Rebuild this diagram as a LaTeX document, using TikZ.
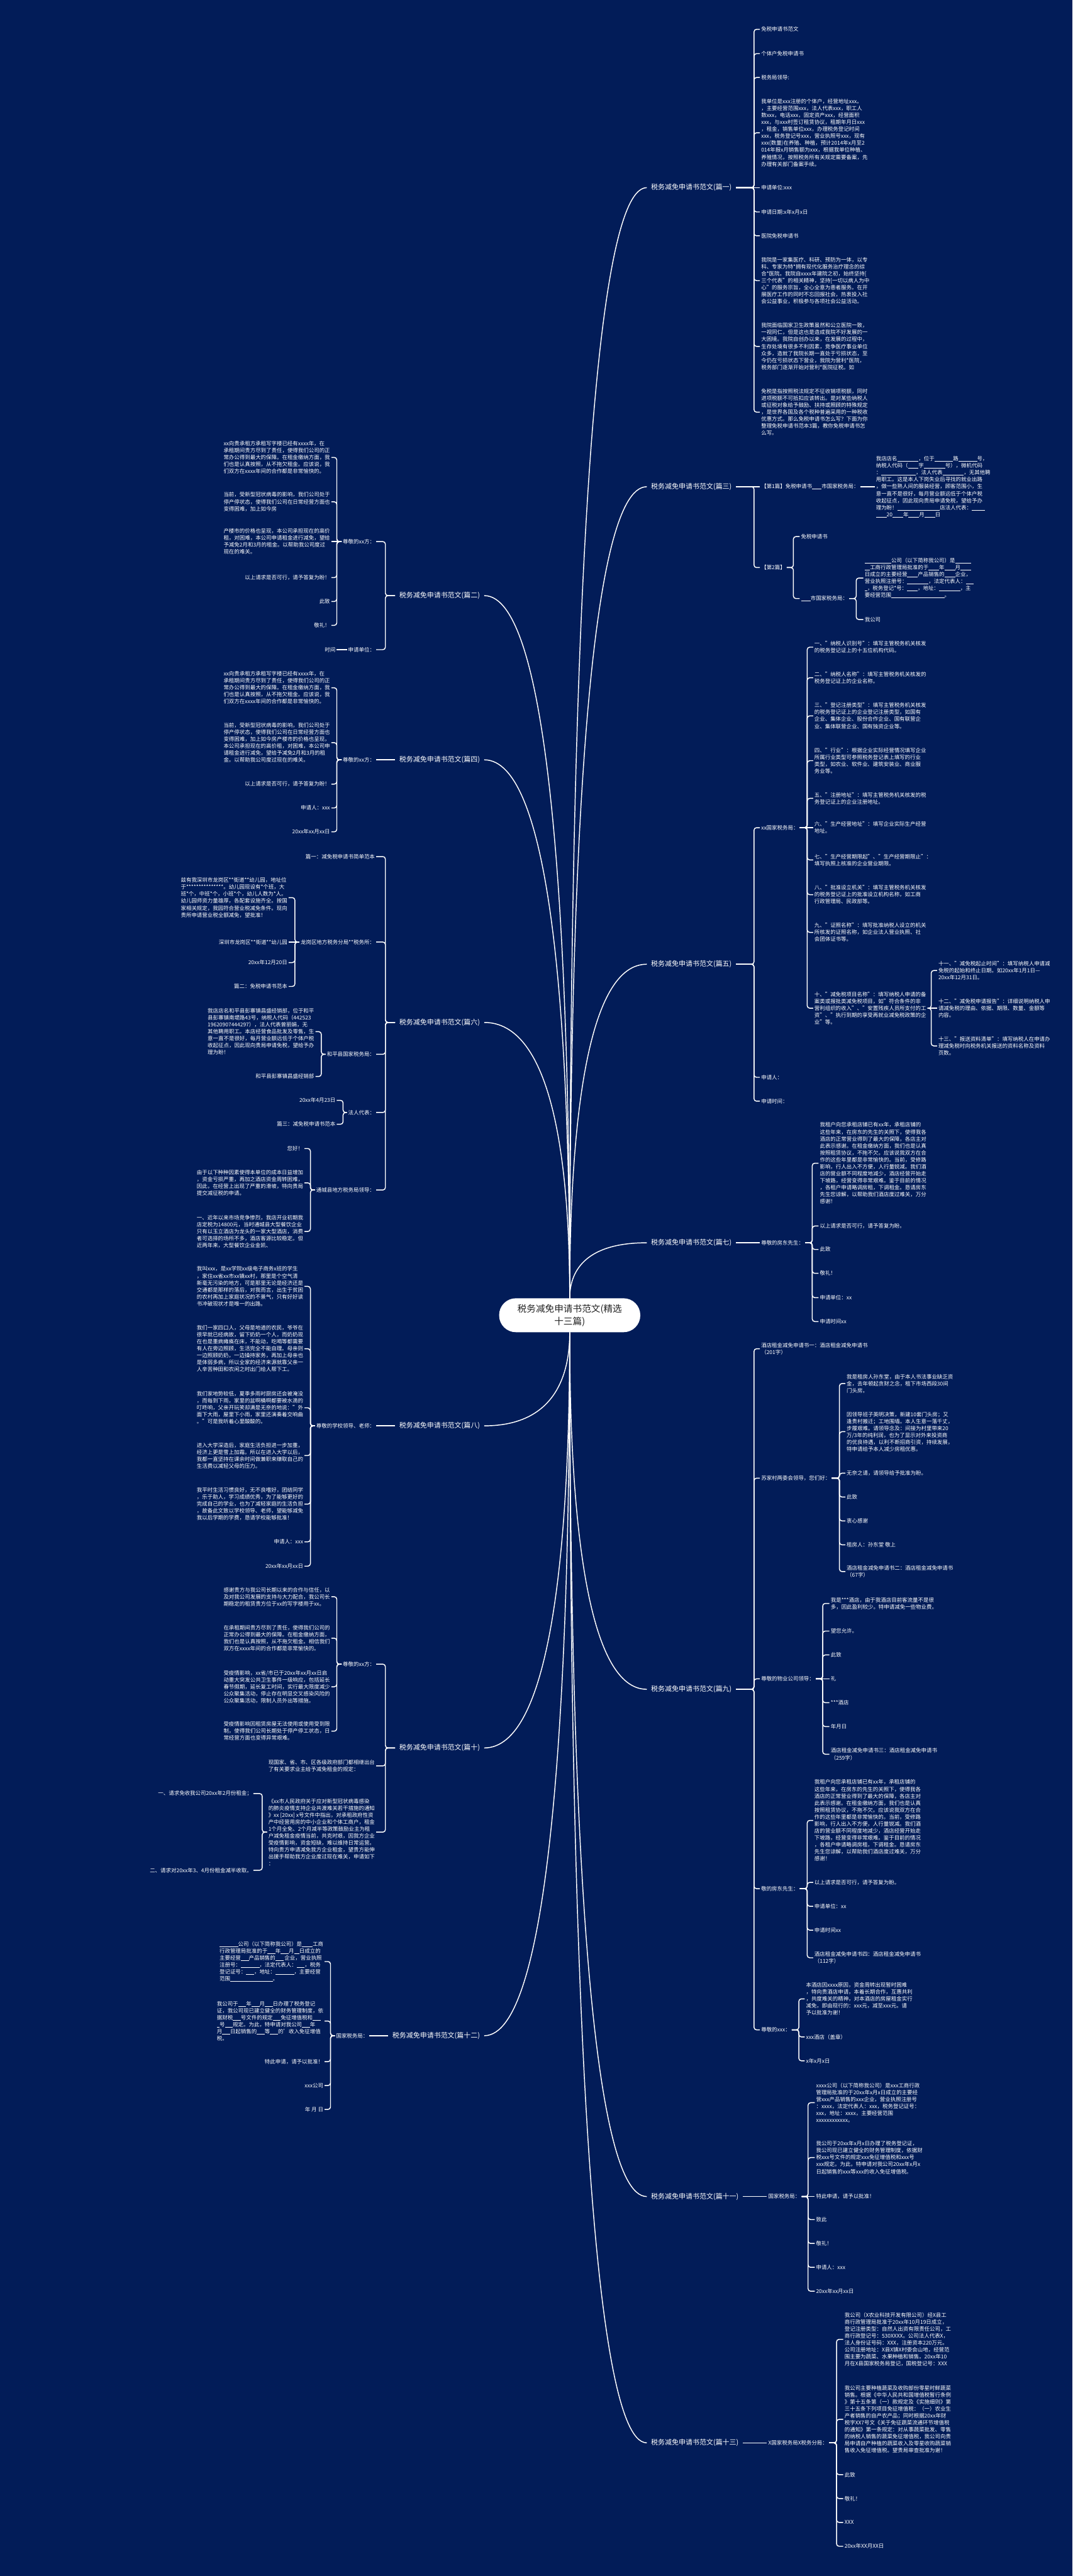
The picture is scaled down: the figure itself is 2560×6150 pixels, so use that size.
\documentclass[tikz,border=0pt]{standalone}
\usepackage{fontspec}
\setmainfont{Noto Sans CJK SC}
\usetikzlibrary{calc}
\definecolor{bgc}{HTML}{021C58}
\definecolor{ctext}{HTML}{222222}
\newcommand\BL[1]{\rule[-0.12em]{#1em}{0.07em}}
\newcommand\ZuhuText{我租户向您承租店铺已有xx年，承租店铺的\\这些年来，在房东的先生的关照下，使得我各\\酒店的正常营业得到了最大的保障，各店主对\\此表示感谢。在租金缴纳方面，我们也是认真\\按照租赁协议，不拖不欠。应该说我双方在合\\作的这些年里都是非常愉快的。当前，受修路\\影响，行人出入不方便，人行量锐减。我们酒\\店的营业额不同程度地减少，酒店经营开始走\\下坡路，经营变得非常艰难。鉴于目前的情况\\，各租户申请略调房租，下调租金。恳请房东\\先生您谅解，以帮助我们酒店度过难关，万分\\感谢！}
\newcommand\XiangGuiText{xx向贵承租方承租写字楼已经有xxxx年，在\\承租期间贵方尽到了责任，使得我们公司的正\\常办公得到最大的保障。在租金缴纳方面，我\\们也是认真按照，从不拖欠租金。应该说，我\\们双方在xxxx年间的合作都是非常愉快的。}
\newcommand\kR[3]{\foreach \kk in {#3}{\draw[conn] (#1.east) -- (#1.east -| #2) |- (\kk.west);}}
\newcommand\kL[3]{\foreach \kk in {#3}{\draw[conn] (#1.west) -- (#1.west -| #2) |- (\kk.east);}}
\newcommand\sR[2]{\draw[conn] (#1.east) -- (#2.west);}
\newcommand\sL[2]{\draw[conn] (#1.west) -- (#2.east);}
\newcommand\mR[2]{\draw[conn] let \p1=(#1), \p2=(#2.west) in (\p1) .. controls (\x1,{0.45*(\y1)+0.55*(\y2)}) and ({0.75*(\x1)+0.25*(\x2)},\y2) .. (\p2);}
\newcommand\mL[2]{\draw[conn] let \p1=(#1), \p2=(#2.east) in (\p1) .. controls (\x1,{0.45*(\y1)+0.55*(\y2)}) and ({0.75*(\x1)+0.25*(\x2)},\y2) .. (\p2);}
\begin{document}
\begin{tikzpicture}[x=1pt,y=-1pt,
 conn/.style={draw=white,line width=2.2pt,rounded corners=6pt},
 lf/.style={text=white,font=\fontsize{12.7}{16.6}\selectfont,align=left,inner xsep=3pt,inner ysep=2pt},
 rn/.style={lf,anchor=west},
 ln/.style={lf,anchor=east},
 ml/.style={text=white,font=\fontsize{16.5}{20}\selectfont,inner xsep=10pt,inner ysep=3pt},
 mrn/.style={ml,anchor=west},
 mln/.style={ml,anchor=east}]
\fill[bgc] (0,0) rectangle (2560,6150);
\useasboundingbox (0,0) rectangle (2560,6150);

\node[fill=white,rounded corners=40pt,minimum width=337pt,minimum height=81pt,text=ctext,font=\fontsize{22}{30}\selectfont,align=center,inner sep=0pt] (C) at (1360,3140) {税务减免申请书范文(精选\\十三篇)};
\coordinate (cN) at (1360,3100);
\coordinate (cS) at (1360,3181);
\coordinate (tR) at (1800,0);
\coordinate (tL) at (920,0);
\coordinate (tL12) at (905,0);

% ---------------- 篇一
\node[mrn] (P1) at (1544,448) {税务减免申请书范文(篇一)};
\node[rn] (a1) at (1814,70) {免税申请书范文};
\node[rn] (a2) at (1814,128) {个体户免税申请书};
\node[rn] (a3) at (1814,185) {税务局领导:};
\node[rn] (a4) at (1814,317) {我单位是xxx注册的个体户，经营地址xxx。\\，主要经营范围xxx，法人代表xxx，职工人\\数xxx，电话xxx，固定资产xxx，经营面积\\xxx，与xxx村签订租赁协议，租期年月日xxx\\，租金，销售单位xxx，办理税务登记时间\\xxx，税务登记号xxx，营业执照号xxx，现有\\xxx(数量)在养殖、种植，预计2014年x月至2\\014年报x月销售额为xxx，根据我单位种植、\\养殖情况，按照税务所有关规定需要备案，先\\办理有关部门备案手续。};
\node[rn] (a5) at (1814,448) {申请单位:xxx};
\node[rn] (a6) at (1814,506) {申请日期:x年x月x日};
\node[rn] (a7) at (1814,563) {医院免税申请书};
\node[rn] (a8) at (1814,670) {我院是一家集医疗、科研、预防为一体，以专\\科、专家为特*拥有现代化服务治疗理念的综\\合*医院。我院自xxxx年建院之初，始终坚持[\\三个代表"的相关精神，坚持[一切以病人为中\\心"的服务宗旨，全心全意为患者服务。在开\\展医疗工作的同时不忘回报社会，热衷投入社\\会公益事业，积极参与各项社会公益活动。};
\node[rn] (a9) at (1814,827) {我院面临国家卫生政策虽然和公立医院一致，\\一视同仁，但是这也是造成我院不好发展的一\\大困境。我院自创办以来，在发展的过程中，\\生存处境有很多不利因素，竞争医疗事业单位\\众多，造就了我院长期一直处于亏损状态，至\\今仍在亏损状态下营业，我院为营利*医院，\\税务部门逐渐开始对营利*医院征税。如};
\node[rn] (a10) at (1814,984) {免税是指按照税法规定不征收销项税额，同时\\进项税额不可抵扣应该转出。是对某些纳税人\\或征税对象给予鼓励、扶持或照顾的特殊规定\\，是世界各国及各个税种普遍采用的一种税收\\优惠方式。那么免税申请书怎么写？下面为你\\整理免税申请书范本3篇，教你免税申请书怎\\么写。};
\kR{P1}{tR}{a1,a2,a3,a4,a6,a7,a8,a9,a10}
\sR{P1}{a5}

% ---------------- 篇三
\node[mrn] (P3) at (1544,1162) {税务减免申请书范文(篇三)};
\node[rn] (b1) at (1814,1162) {【第1篇】免税申请书\BL{1.8}市国家税务局：};
\node[rn] (b1p) at (2088,1162) {我店店名\BL{4}，位于\BL{3.5}路\BL{3.5}号，\\纳税人代码（\BL{2}字\BL{4}号），微机代码\\：\BL{6.5}，法人代表\BL{4}，无其他聘\\用职工。这是本人下岗失业后寻找的就业出路\\，做一些熟人间的服装经营，顾客范围小，生\\意一直不是很好，每月营业额远低于个体户税\\收起征点，因此现向贵局申请免税，望给予办\\理为盼！\BL{8}店法人代表：\BL{2.5}\\\BL{2}20\BL{2}年\BL{2}月\BL{2}日};
\node[rn] (b2) at (1814,1355) {【第2篇】};
\node[rn] (b21) at (1909,1281) {免税申请书};
\node[rn] (b22) at (1909,1429) {\BL{1.8}市国家税务局：};
\node[rn] (b221) at (2061,1380) {\BL{5}公司（以下简称我公司）是\BL{3}\\\BL{1}工商行政管理局批准的于\BL{2}年\BL{2}月\BL{2}\\日成立的主要经营\BL{2}产品销售的\BL{2}企业，\\营业执照注册号：\BL{4}，法定代表人：\BL{1.5}\\\BL{0.5}，税务登记*号：\BL{2}，地址：\BL{4}，主\\要经营范围\BL{10}。};
\node[rn] (b222) at (2061,1479) {我公司};
\coordinate (tb2) at (1894,0);
\coordinate (tb22) at (2044,0);
\sR{P3}{b1}
\kR{P3}{tR}{b2}
\sR{b1}{b1p}
\kR{b2}{tb2}{b21,b22}
\kR{b22}{tb22}{b221,b222}

% ---------------- 篇五
\node[mrn] (P5) at (1544,2302) {税务减免申请书范文(篇五)};
\node[rn] (c1) at (1814,1976) {xx国家税务局：};
\node[rn] (c2) at (1814,2572) {申请人：};
\node[rn] (c3) at (1814,2629) {申请时间：};
\node[rn] (c11) at (1941,1545) {一、"纳税人识别号"：填写主管税务机关核发\\的税务登记证上的十五位机构代码。};
\node[rn] (c12) at (1941,1618) {二、"纳税人名称"：填写主管税务机关核发的\\税务登记证上的企业名称。};
\node[rn] (c13) at (1941,1709) {三、"登记注册类型"：填写主管税务机关核发\\的税务登记证上的企业登记注册类型，如国有\\企业、集体企业、股份合作企业、国有联营企\\业、集体联营企业、国有独资企业等。};
\node[rn] (c14) at (1941,1816) {四、"行业"：根据企业实际经营情况填写企业\\所属行业类型可参照税务登记表上填写的行业\\类型，如农业、软件业、建筑安装业、商业服\\务业等。};
\node[rn] (c15) at (1941,1906) {五、"注册地址"：填写主管税务机关核发的税\\务登记证上的企业注册地址。};
\node[rn] (c16) at (1941,1976) {六、"生产经营地址"：填写企业实际生产经营\\地址。};
\node[rn] (c17) at (1941,2053) {七、"生产经营期限起"、"生产经营期限止"：\\填写执照上核准的企业营业期限。};
\node[rn] (c18) at (1941,2136) {八、"批准设立机关"：填写主管税务机关核发\\的税务登记证上的批准设立机构名称，如工商\\行政管理局、民政部等。};
\node[rn] (c19) at (1941,2226) {九、"证照名称"：填写批准纳税人设立的机关\\所核发的证照名称，如企业法人营业执照、社\\会团体证书等。};
\node[rn] (c110) at (1941,2407) {十、"减免税项目名称"：填写纳税人申请的备\\案类或报批类减免税项目，如"符合条件的非\\营利组织的收入"、"安置残疾人员所支付的工\\资"、"执行到期的享受再就业减免税政策的企\\业"等。};
\node[rn] (c1a) at (2237,2317) {十一、"减免税起止时间"：填写纳税人申请减\\免税的起始和终止日期。如20xx年1月1日—\\20xx年12月31日。};
\node[rn] (c1b) at (2237,2407) {十二、"减免税申请报告"：详细说明纳税人申\\请减免税的理由、依据、期限、数量、金额等\\内容。};
\node[rn] (c1c) at (2237,2497) {十三、"报送资料清单"：填写纳税人在申请办\\理减免税时向税务机关报送的资料名称及资料\\页数。};
\coordinate (tc1) at (1927,0);
\coordinate (tc10) at (2223,0);
\kR{P5}{tR}{c1,c2,c3}
\kR{c1}{tc1}{c11,c12,c13,c14,c15,c17,c18,c19,c110}
\sR{c1}{c16}
\kR{c110}{tc10}{c1a,c1c}
\sR{c110}{c1b}

% ---------------- 篇七
\node[mrn] (P7) at (1544,2967) {税务减免申请书范文(篇七)};
\node[rn] (d1) at (1814,2967) {尊敬的房东先生：};
\node[rn] (d11) at (1954,2777) {\ZuhuText};
\node[rn] (d12) at (1954,2927) {以上请求是否可行，请予答复为盼。};
\node[rn] (d13) at (1954,2983) {此致};
\node[rn] (d14) at (1954,3040) {敬礼！};
\node[rn] (d15) at (1954,3098) {申请单位：xx};
\node[rn] (d16) at (1954,3155) {申请时间xx};
\coordinate (td1) at (1939,0);
\sR{P7}{d1}
\kR{d1}{td1}{d11,d12,d13,d14,d15,d16}

% ---------------- 篇九
\node[mrn] (P9) at (1544,4033) {税务减免申请书范文(篇九)};
\node[rn] (e1) at (1814,3220) {酒店租金减免申请书一：酒店租金减免申请书\\（201字）};
\node[rn] (e2) at (1814,3529) {苏家村两委会领导，您们好：};
\node[rn] (e21) at (2018,3303) {我是租房人孙东堂，由于本人书法事业缺乏资\\金，去年顿起贪财之念，租下市场西段30间\\门头房。};
\node[rn] (e22) at (2018,3418) {因领导班子英明决策，新建10套门头房；又\\逢贵村搬迁；工地围墙。本人生意一落千丈，\\步履艰难。请领导念及：间接为村里带来20\\万/3年的纯利润，也为了显示对外来投资商\\的优良待遇，以利不断招商引资，持续发展，\\特申请给予本人减少房租优惠。};
\node[rn] (e23) at (2018,3517) {无奈之请，请领导给予批准为盼。};
\node[rn] (e24) at (2018,3574) {此致};
\node[rn] (e25) at (2018,3631) {衷心感谢};
\node[rn] (e26) at (2018,3688) {租房人：孙东堂 敬上};
\node[rn] (e27) at (2018,3752) {酒店租金减免申请书二：酒店租金减免申请书\\（67字）};
\node[rn] (e3) at (1814,4008) {尊敬的物业公司领导：};
\node[rn] (e31) at (1980,3828) {我是***酒店，由于我酒店目前客流量不是很\\多，因此盈利较少。特申请减免一些物业费。};
\node[rn] (e32) at (1980,3894) {望您允许。};
\node[rn] (e33) at (1980,3951) {此致};
\node[rn] (e34) at (1980,4008) {礼};
\node[rn] (e35) at (1980,4065) {***酒店};
\node[rn] (e36) at (1980,4122) {年月日};
\node[rn] (e37) at (1980,4188) {酒店租金减免申请书三：酒店租金减免申请书\\（259字）};
\node[rn] (e4) at (1814,4509) {敬的房东先生：};
\node[rn] (e41) at (1941,4346) {\ZuhuText};
\node[rn] (e42) at (1941,4494) {以上请求是否可行，请予答复为盼。};
\node[rn] (e43) at (1941,4551) {申请单位：xx};
\node[rn] (e44) at (1941,4608) {申请时间xx};
\node[rn] (e45) at (1941,4674) {酒店租金减免申请书四：酒店租金减免申请书\\（112字）};
\node[rn] (e5) at (1814,4846) {尊敬的xxx：};
\node[rn] (e51) at (1921,4772) {本酒店因xxxx原因，资金周转出现暂时困难\\，特向贵酒店申请，本着长期合作，互惠共利\\，共度难关的精神，对本酒店的房屋租金实行\\减免，即由现行的：xxx元，减至xxx元。请\\予以批准为谢！};
\node[rn] (e52) at (1921,4863) {xxx酒店（盖章）};
\node[rn] (e53) at (1921,4920) {x年x月x日};
\coordinate (te2) at (2004,0);
\coordinate (te3) at (1964,0);
\coordinate (te4) at (1927,0);
\coordinate (te5) at (1907,0);
\kR{P9}{tR}{e1,e2,e3,e4,e5}
\kR{e2}{te2}{e21,e22,e23,e24,e25,e26,e27}
\kR{e3}{te3}{e31,e32,e33,e35,e36,e37}
\sR{e3}{e34}
\kR{e4}{te4}{e41,e42,e43,e44,e45}
\kR{e5}{te5}{e51,e52,e53}

% ---------------- 篇十一
\node[mrn] (P11) at (1544,5244) {税务减免申请书范文(篇十一)};
\node[rn] (f1) at (1831,5244) {国家税务局：};
\node[rn] (f11) at (1945,5020) {xxxx公司（以下简称我公司）是xxx工商行政\\管理局批准的于20xx年x月x日成立的主要经\\营xxx产品销售的xxx企业，营业执照注册号\\：xxxx，法定代表人：xxx，税务登记证号：\\xxx，地址：xxxx，主要经营范围\\xxxxxxxxxxxx。};
\node[rn] (f12) at (1945,5151) {我公司于20xx年x月x日办理了税务登记证，\\我公司现已建立健全的财务管理制度，依据财\\税xxx号文件的规定xxx免征增值税和xxx号\\xxx规定。为此，特申请对我公司20xx年x月x\\日起销售的xxx等xxx的收入免征增值税。};
\node[rn] (f13) at (1945,5244) {特此申请，请予以批准！};
\node[rn] (f14) at (1945,5299) {致此};
\node[rn] (f15) at (1945,5356) {敬礼！};
\node[rn] (f16) at (1945,5413) {申请人：xxx};
\node[rn] (f17) at (1945,5470) {20xx年xx月xx日};
\coordinate (tf1) at (1929,0);
\sR{P11}{f1}
\kR{f1}{tf1}{f11,f12,f14,f15,f16,f17}
\sR{f1}{f13}

% ---------------- 篇十三
\node[mrn] (P13) at (1544,5832) {税务减免申请书范文(篇十三)};
\node[rn] (g1) at (1831,5832) {X国家税务局X税务分局：};
\node[rn] (g11) at (2013,5585) {我公司（X农业科技开发有限公司）经X县工\\商行政管理局批准于20xx年10月19日成立，\\登记注册类型：自然人出资有限责任公司，工\\商行政登记号：530XXXX。公司法人代表X，\\法人身份证号码：XXX，注册资本220万元。\\公司注册地址：X县X镇X村委会山地，经营范\\围主要为蔬菜、水果种植和销售。20xx年10\\月在X县国家税务局登记，国税登记号：XXX};
\node[rn] (g12) at (2013,5776) {我公司主要种植蔬菜及收购部份零星时鲜蔬菜\\销售。根据《中华人民共和国增值税暂行条例\\》第十五条第（一）款规定及《实施细则》第\\三十五条下列项目免征增值税：（一）农业生\\产者销售的自产农产品；同时根据20xx年财\\税字XX7号文《关于免征蔬菜流通环节增值税\\的通知》第一条规定：对从事蔬菜批发、零售\\的纳税人销售的蔬菜免征增值税，我公司向贵\\局申请自产种植的蔬菜收入及零星收购蔬菜销\\售收入免征增值税。望贵局审查批准为谢！};
\node[rn] (g13) at (2013,5908) {此致};
\node[rn] (g14) at (2013,5965) {敬礼！};
\node[rn] (g15) at (2013,6022) {XXX};
\node[rn] (g16) at (2013,6079) {20xx年XX月XX日};
\coordinate (tg1) at (1997,0);
\sR{P13}{g1}
\kR{g1}{tg1}{g11,g12,g13,g14,g15,g16}

% ---------------- 篇二
\node[mln] (P2) at (1156,1422) {税务减免申请书范文(篇二)};
\node[ln] (h1) at (898,1293) {尊敬的xx方：};
\node[ln] (h11) at (791,1092) {\XiangGuiText};
\node[ln] (h12) at (791,1198) {当前，受新型冠状病毒的影响，我们公司处于\\停产停状态，使得我们公司在日常经营方面也\\变得困难，加上如今房};
\node[ln] (h13) at (791,1293) {产楼市的价格也呈现，本公司承担现在的高价\\租，对困难，本公司申请租金进行减免，望给\\予减免2月和3月的租金。以帮助我公司度过\\现在的难关。};
\node[ln] (h14) at (791,1379) {以上请求是否可行，请予答复为盼！};
\node[ln] (h15) at (791,1436) {此致};
\node[ln] (h16) at (791,1493) {敬礼！};
\node[ln] (h2) at (898,1551) {申请单位：};
\node[ln] (h21) at (804,1551) {时间};
\coordinate (th1) at (804,0);
\kL{P2}{tL}{h1,h2}
\kL{h1}{th1}{h11,h12,h14,h15,h16}
\sL{h1}{h13}
\sL{h2}{h21}

% ---------------- 篇四
\node[mln] (P4) at (1156,1814) {税务减免申请书范文(篇四)};
\node[ln] (i1) at (898,1814) {尊敬的xx方：};
\node[ln] (i11) at (791,1642) {\XiangGuiText};
\node[ln] (i12) at (791,1773) {当前，受新型冠状病毒的影响，我们公司处于\\停产停状态，使得我们公司在日常经营方面也\\变得困难，加上如今房产楼市的价格也呈现，\\本公司承担现在的高价租，对困难，本公司申\\请租金进行减免，望给予减免2月和3月的租\\金。以帮助我公司度过现在的难关。};
\node[ln] (i13) at (791,1872) {以上请求是否可行，请予答复为盼！};
\node[ln] (i14) at (791,1929) {申请人：xxx};
\node[ln] (i15) at (791,1986) {20xx年xx月xx日};
\sL{P4}{i1}
\kL{i1}{th1}{i11,i12,i13,i14,i15}

% ---------------- 篇六
\node[mln] (P6) at (1156,2441) {税务减免申请书范文(篇六)};
\node[ln] (j1) at (898,2045) {篇一：减免税申请书简单范本};
\node[ln] (j2) at (898,2249) {龙岗区地方税务分局**税务所：};
\node[ln] (j21) at (689,2143) {兹有我深圳市龙岗区**街道**幼儿园，地址位\\于***************。幼儿园现设有*个班，大\\班*个，中班*个，小班*个，幼儿人数为*人。\\幼儿园师资力量雄厚，各配套设施齐全。按国\\家相关规定，我园符合营业税减免条件。现向\\贵所申请营业税全额减免，望批准！};
\node[ln] (j22) at (689,2249) {深圳市龙岗区**街道**幼儿园};
\node[ln] (j23) at (689,2298) {20xx年12月20日};
\node[ln] (j24) at (689,2355) {篇二：免税申请书范本};
\node[ln] (j3) at (898,2517) {和平县国家税务局：};
\node[ln] (j31) at (753,2463) {我店店名和平县彭寨镇昌盛经销部，位于和平\\县彭寨镇南堤路43号，纳税人代码（442523\\19620907444297），法人代表曾丽娟，无\\其他聘用职工。本店经营食品批发及零售，生\\意一直不是很好，每月营业额远低于个体户税\\收起征点，因此现向贵局申请免税，望给予办\\理为盼！};
\node[ln] (j32) at (753,2570) {和平县彭寨镇昌盛经销部};
\node[ln] (j4) at (898,2656) {法人代表：};
\node[ln] (j41) at (804,2627) {20xx年4月23日};
\node[ln] (j42) at (804,2684) {篇三：减免税申请书范本};
\node[ln] (j5) at (898,2841) {通城县地方税务局领导：};
\node[ln] (j51) at (727,2742) {您好！};
\node[ln] (j52) at (727,2824) {由于以下种种因素使得本单位的成本日益增加\\，资金亏损严重，再加之酒店资金周转困难，\\因此，在经营上出现了严重的滑坡，特向贵局\\提交减征税的申请。};
\node[ln] (j53) at (727,2940) {一、近年以来市场竞争惨烈，我店开业初期我\\店定税为14800元，当时通城县大型餐饮企业\\只有以玉立酒店为龙头的一家大型酒店，消费\\者可选择的场所不多，酒店客源比较稳定。但\\近两年来，大型餐饮企业金凯、};
\coordinate (tj2) at (704,0);
\coordinate (tj3) at (767,0);
\coordinate (tj4) at (819,0);
\coordinate (tj5) at (741,0);
\kL{P6}{tL}{j1,j2,j3,j4,j5}
\kL{j2}{tj2}{j21,j23,j24}
\sL{j2}{j22}
\kL{j3}{tj3}{j31,j32}
\kL{j4}{tj4}{j41,j42}
\kL{j5}{tj5}{j51,j52,j53}

% ---------------- 篇八
\node[mln] (P8) at (1156,3404) {税务减免申请书范文(篇八)};
\node[ln] (k1) at (898,3404) {尊敬的学校领导、老师：};
\node[ln] (k11) at (727,3071) {我叫xxx，是xx学院xx级电子商务x班的学生\\，家住xx省xx市xx镇xx村，那里是个空气清\\新毫无污染的地方，可是那里无论是经济还是\\交通都是那样的落后，对我而言，出生于贫困\\的农村再加上家庭状况的不景气，只有好好读\\书冲破现状才是唯一的出路。};
\node[ln] (k12) at (727,3220) {我们一家四口人，父母是地道的农民，爷爷在\\很早就已经病故，留下奶奶一个人，而奶奶现\\在也是重病瘫痪在床，不能动，吃喝等都需要\\有人在旁边照顾，生活完全不能自理。母亲则\\一边照顾奶奶，一边操持家务，再加上母亲也\\是体弱多病，所以全家的经济来源就靠父亲一\\人辛苦种田和农闲之时出门给人帮下工。};
\node[ln] (k13) at (727,3361) {我们家地势较低，夏季多雨时厨房还会被淹没\\，而每到下雨，家里的盆啊桶啊都要被水滴的\\叮咚响，父亲开玩笑却满是无奈的地说："外\\面下大雨，屋里下小雨，家里还演奏着交响曲\\。"可是我听着心里酸酸的。};
\node[ln] (k14) at (727,3475) {进入大学深造后，家庭生活负担进一步加重，\\经济上更是雪上加霜。所以在进入大学以后，\\我都一直坚持在课余时间做兼职来赚取自己的\\生活费以减轻父母的压力。};
\node[ln] (k15) at (727,3591) {我平时生活习惯良好，无不良嗜好，团结同学\\，乐于助人，学习成绩优秀，为了能够更好的\\完成自己的学业，也为了减轻家庭的生活负担\\，故备此文致以学校领导、老师，望能够减免\\我以后学期的学费，恳请学校能够批准！};
\node[ln] (k16) at (727,3681) {申请人：xxx};
\node[ln] (k17) at (727,3739) {20xx年xx月xx日};
\coordinate (tk1) at (741,0);
\sL{P8}{k1}
\kL{k1}{tk1}{k11,k12,k13,k14,k15,k16,k17}

% ---------------- 篇十
\node[mln] (P10) at (1156,4173) {税务减免申请书范文(篇十)};
\node[ln] (l1) at (898,3973) {尊敬的xx方：};
\node[ln] (l11) at (791,3812) {感谢贵方与我公司长期以来的合作与信任，以\\及对我公司发展的支持与大力配合，我公司长\\期稳定的租赁贵方位于xx的写字楼用于xx。};
\node[ln] (l12) at (791,3911) {在承租期间贵方尽到了责任，使得我们公司的\\正常办公得到最大的保障。在租金缴纳方面，\\我们也是认真按照，从不拖欠租金。相信我们\\双方在xxxx年间的合作都是非常愉快的。};
\node[ln] (l13) at (791,4027) {受疫情影响，xx省/市已于20xx年xx月xx日启\\动重大突发公共卫生事件一级响应，包括延长\\春节假期，延长复工时间，实行最大限度减少\\公众聚集活动，停止存在明显交叉感染风险的\\公众聚集活动，限制人员外出等措施。};
\node[ln] (l14) at (791,4133) {受疫情影响因租赁房屋无法使用或使用受到限\\制，使得我们公司长期处于停产停工状态，日\\常经营方面也变得异常艰难。};
\node[ln] (l2) at (898,4216) {现国家、省、市、区各级政府部门都相继出台\\了有关要求业主给予减免租金的规定：};
\node[ln] (l3) at (898,4374) {《xx市人民政府关于应对新型冠状病毒感染\\的肺炎疫情支持企业共渡难关若干措施的通知\\》xx [20xx] x号文件中指出，对承租政府性资\\产中经营用房的中小企业和个体工商户，租金\\1个月全免、2个月减半等政策鼓励业主为租\\户减免租金疫情当前，共克时艰，因我方企业\\受疫情影响，资金短缺，难以维持日常运营。\\特向贵方申请减免我方企业租金，望贵方能伸\\出援手帮助我方企业度过现在难关，申请如下\\：};
\node[ln] (l31) at (605,4282) {一、请求免收我公司20xx年2月份租金；};
\node[ln] (l32) at (605,4465) {二、请求对20xx年3、4月份租金减半收取。};
\coordinate (tl3) at (626,0);
\kL{P10}{tL}{l1,l2,l3}
\kL{l1}{th1}{l11,l12,l13,l14}
\kL{l3}{tl3}{l31,l32}

% ---------------- 篇十二
\node[mln] (P12) at (1156,4860) {税务减免申请书范文(篇十二)};
\node[ln] (m1) at (882,4860) {国家税务局：};
\node[ln] (m11) at (775,4683) {\BL{3.5}公司（以下简称我公司）是\BL{2}工商\\行政管理局批准的于\BL{1.5}年\BL{1.5}月\BL{1}日成立的\\主要经营\BL{1.5}产品销售的\BL{1.5} 企业，营业执照\\注册号：\BL{3.5}，法定代表人：\BL{1.5}，税务\\登记证号：\BL{1.5}，地址：\BL{3.5}，主要经营\\范围\BL{8}。};
\node[ln] (m12) at (775,4825) {我公司于\BL{1.5}年\BL{1.5}月\BL{1.5}日办理了税务登记\\证，我公司现已建立健全的财务管理制度，依\\据财税\BL{1.5}号文件的规定\BL{1.5}免征增值税和\BL{1.5}\\\BL{0.5}号\BL{1.5}规定。为此，特申请对我公司\BL{1.5}年\\月\BL{1.5}日起销售的\BL{1.5}等\BL{1.5}的'收入免征增值\\税。};
\node[ln] (m13) at (775,4922) {特此申请，请予以批准！};
\node[ln] (m14) at (775,4979) {xxx公司};
\node[ln] (m15) at (775,5036) {年 月 日};
\coordinate (tm1) at (789,0);
\sL{P12}{m1}
\kL{m1}{tm1}{m11,m12,m13,m14,m15}

% ---------------- main curves
\mR{cN}{P1}
\mR{cN}{P3}
\mR{cN}{P5}
\mR{cN}{P7}
\mR{cS}{P9}
\mR{cS}{P11}
\mR{cS}{P13}
\mL{cN}{P2}
\mL{cN}{P4}
\mL{cN}{P6}
\mL{cS}{P8}
\mL{cS}{P10}
\mL{cS}{P12}
\end{tikzpicture}
\end{document}
